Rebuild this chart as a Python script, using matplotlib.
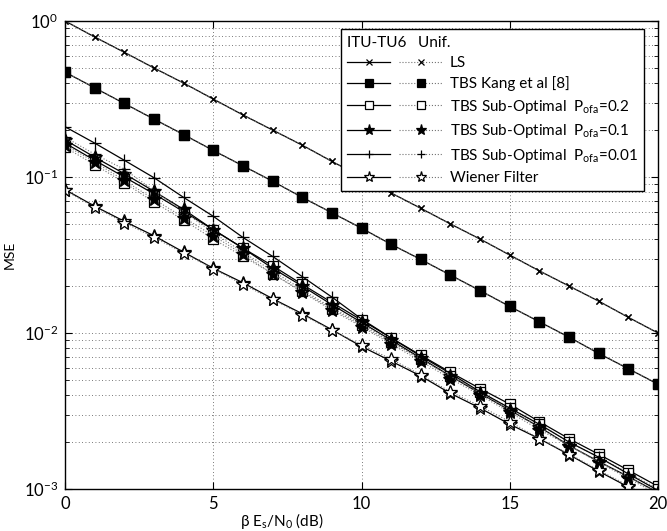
import matplotlib
matplotlib.use("Agg")
import matplotlib.pyplot as plt
from matplotlib.lines import Line2D
from matplotlib.legend_handler import HandlerTuple
from matplotlib.ticker import LogLocator, FixedLocator, NullFormatter

plt.rcParams['font.family'] = ['Lato', 'DejaVu Sans']
plt.rcParams['mathtext.fontset'] = 'custom'
plt.rcParams['mathtext.rm'] = 'Lato'
plt.rcParams['mathtext.it'] = 'Lato'

snr = list(range(0, 21))

ls_tu6 = [1.0, 0.79, 0.63, 0.5, 0.4, 0.316, 0.25, 0.2, 0.16, 0.126, 0.1, 0.079, 0.063,
          0.05, 0.04, 0.0316, 0.025, 0.02, 0.016, 0.0126, 0.01]
ls_unif = [1.0, 0.79, 0.63, 0.5, 0.4, 0.316, 0.25, 0.2, 0.16, 0.126, 0.1, 0.079, 0.063,
           0.05, 0.04, 0.0316, 0.025, 0.02, 0.016, 0.0126, 0.01]
kang_tu6 = [0.47, 0.373, 0.296, 0.235, 0.187, 0.148, 0.118, 0.094, 0.074, 0.059, 0.047,
            0.037, 0.0296, 0.0235, 0.0187, 0.0148, 0.0118, 0.0094, 0.0074, 0.0059, 0.0047]
kang_unif = [0.47, 0.373, 0.296, 0.235, 0.187, 0.148, 0.118, 0.094, 0.074, 0.059, 0.047,
             0.037, 0.0296, 0.0235, 0.0187, 0.0148, 0.0118, 0.0094, 0.0074, 0.0059, 0.0047]
p02_tu6 = [0.165, 0.128, 0.1, 0.078, 0.06, 0.046, 0.035, 0.027, 0.0205, 0.0157, 0.0121,
           0.0093, 0.0072, 0.0056, 0.0044, 0.0035, 0.0027, 0.0021, 0.00167, 0.00132, 0.00104]
p02_unif = [0.155, 0.12, 0.092, 0.069, 0.053, 0.04, 0.031, 0.024, 0.0185, 0.0143, 0.0112,
            0.0087, 0.0068, 0.0053, 0.0042, 0.0033, 0.0026, 0.002, 0.0016, 0.00127, 0.001]
p01_tu6 = [0.173, 0.134, 0.105, 0.081, 0.062, 0.046, 0.035, 0.026, 0.02, 0.0152, 0.0117,
           0.009, 0.0069, 0.0053, 0.0041, 0.0032, 0.0025, 0.0019, 0.0015, 0.0012, 0.00095]
p01_unif = [0.16, 0.125, 0.095, 0.072, 0.055, 0.042, 0.032, 0.024, 0.0183, 0.014, 0.011,
            0.0085, 0.0066, 0.0051, 0.004, 0.0031, 0.0024, 0.0019, 0.00148, 0.00117, 0.00092]
p001_tu6 = [0.21, 0.165, 0.128, 0.099, 0.074, 0.056, 0.041, 0.031, 0.023, 0.017, 0.0123,
            0.0093, 0.0071, 0.0055, 0.0042, 0.0033, 0.0026, 0.002, 0.0016, 0.00125, 0.00098]
p001_unif = [0.18, 0.14, 0.112, 0.082, 0.06, 0.044, 0.033, 0.025, 0.019, 0.0145, 0.0115,
             0.0088, 0.0068, 0.0053, 0.0041, 0.0032, 0.0025, 0.0019, 0.0015, 0.0012, 0.00094]
wien_tu6 = [0.083, 0.065, 0.052, 0.042, 0.033, 0.026, 0.021, 0.0166, 0.0133, 0.0105, 0.0082,
            0.0066, 0.0053, 0.0041, 0.0033, 0.0026, 0.0021, 0.00166, 0.0013, 0.00103, 0.00082]
wien_unif = [0.082, 0.064, 0.051, 0.041, 0.0325, 0.0258, 0.0205, 0.0164, 0.0131, 0.0104, 0.0084,
             0.0068, 0.0054, 0.0042, 0.0034, 0.0027, 0.0021, 0.00168, 0.00132, 0.00105, 0.00083]

labels = ["LS", "TBS Kang et al [8]",
          r"TBS Sub-Optimal  $\mathregular{P_{ofa}}$=0.2",
          r"TBS Sub-Optimal  $\mathregular{P_{ofa}}$=0.1",
          r"TBS Sub-Optimal  $\mathregular{P_{ofa}}$=0.01",
          "Wiener Filter"]
x_ticks = [0, 5, 10, 15, 20]

series = [
    (ls_tu6, ls_unif, dict(marker='x', ms=5, mfc='k')),
    (kang_tu6, kang_unif, dict(marker='s', ms=7, mfc='k')),
    (p02_tu6, p02_unif, dict(marker='s', ms=7, mfc='white')),
    (p01_tu6, p01_unif, dict(marker='*', ms=10, mfc='k')),
    (p001_tu6, p001_unif, dict(marker='+', ms=8, mfc='k')),
    (wien_tu6, wien_unif, dict(marker='*', ms=10, mfc='white')),
]

fig = plt.figure(figsize=(6.67, 5.31), dpi=100)
ax = fig.add_axes([65/667, 1-489/531, 593/667, 468/531])

handles = []
for tu6, unif, st in series:
    h1, = ax.plot(snr, tu6, color='k', lw=0.9, ls='-', mec='k', mew=0.9, **st)
    h2, = ax.plot(snr, unif, color='0.45', lw=0.8, ls=':', mec='k', mew=0.9, **st)
    handles.append((h1, h2))

ax.set_yscale('log')
ax.set_xlim(0, 20)
ax.set_ylim(1e-3, 1)
ax.xaxis.set_major_locator(FixedLocator(x_ticks))
ax.yaxis.set_major_locator(LogLocator(base=10, numticks=10))
ax.yaxis.set_minor_locator(LogLocator(base=10, subs=range(2, 10), numticks=20))
ax.yaxis.set_minor_formatter(NullFormatter())
ax.tick_params(which='both', direction='in', top=True, right=True, labelsize=12)
ax.tick_params(which='major', length=5, pad=5)
ax.tick_params(which='minor', length=3)
ax.grid(True, which='major', color='0.3', ls=(0, (1, 3)), lw=0.6)
ax.grid(True, which='minor', axis='y', color='0.3', ls=(0, (1, 3)), lw=0.6)
for s in ax.spines.values():
    s.set_linewidth(1.0)

ax.set_ylabel("MSE", fontsize=10, labelpad=6)
ax.set_xlabel(r"$\beta$ E$_s$/N$_0$ (dB)", fontsize=11, labelpad=0)
ax.xaxis.set_label_coords(0.366, -0.048)

leg_handles = []
for h1, h2 in handles:
    a = Line2D([], [], color='k', lw=0.9, ls='-', marker=h1.get_marker(), ms=h1.get_markersize()*0.8,
               mfc=h1.get_markerfacecolor(), mec='k', mew=0.9)
    b = Line2D([], [], color='0.45', lw=0.8, ls=':', marker=h2.get_marker(), ms=h2.get_markersize()*0.8,
               mfc=h2.get_markerfacecolor(), mec='k', mew=0.9)
    leg_handles.append((a, b))

leg = ax.legend(leg_handles, labels, handler_map={tuple: HandlerTuple(ndivide=None, pad=0.6)},
                loc='upper right', bbox_to_anchor=(0.976, 0.982), borderaxespad=0,
                fontsize=11, handlelength=6.2, handletextpad=0.5, labelspacing=0.42,
                title="ITU-TU6   Unif.", title_fontsize=11, fancybox=False,
                framealpha=1, edgecolor='k', borderpad=0.4)
leg._legend_box.align = "left"
leg.get_frame().set_linewidth(1.0)

fig.savefig("out.png", dpi=100)
